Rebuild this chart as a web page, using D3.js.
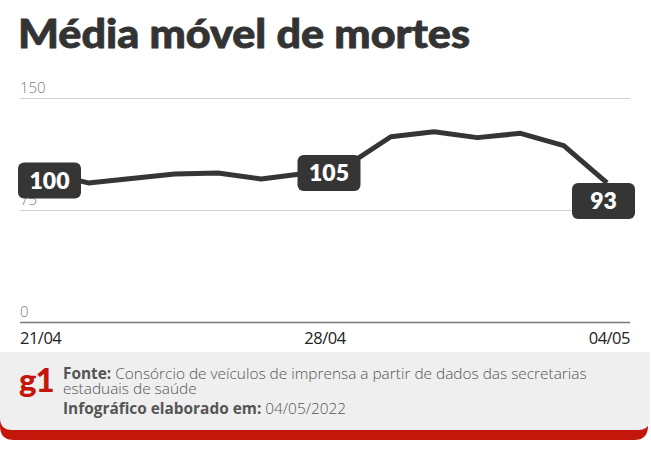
<!DOCTYPE html>
<html><head><meta charset="utf-8">
<script src="https://cdn.jsdelivr.net/npm/d3@7/dist/d3.min.js"></script>
<style>
html,body{margin:0;padding:0;background:#fff;}
svg{display:block;}
</style></head>
<body>
<script>
// ---- data ----
const dates = ["21/04","22/04","23/04","24/04","25/04","26/04","27/04","28/04","29/04","30/04","01/05","02/05","03/05","04/05"];
const values = [100, 93, 96, 99, 99.7, 95.6, 99.3, 105, 124, 127.4, 123.4, 126.3, 118, 93];
const yTicks = [0, 75, 150];
const xTickLabels = ["21/04", "28/04", "04/05"];
const annotated = ["21/04", "28/04", "04/05"];
const annotationText = ["100", "105", "93"];
const title = "Média móvel de mortes";
const sourceLabel = "Fonte:";
const sourceText = " Consórcio de veículos de imprensa a partir de dados das secretarias";
const sourceText2 = "estaduais de saúde";
const dateLabel = "Infográfico elaborado em:";
const dateText = " 04/05/2022";

const W = 651, H = 450;
const dark = "#353535", red = "#c4170c";

const svg = d3.select("body").append("svg").attr("width", W).attr("height", H);
svg.append("rect").attr("width", W).attr("height", H).attr("fill", "#fff");

// title
svg.append("text").attr("x", 18).attr("y", 48)
  .attr("font-family", "Lato, 'Open Sans', sans-serif").attr("font-weight", 900)
  .attr("font-size", 39).attr("fill", "#333")
  .attr("stroke", "#333").attr("stroke-width", 0.8)
  .attr("textLength", 452).attr("lengthAdjust", "spacingAndGlyphs").text(title);

// scales
const plotL = 20, plotR = 630;
const y = d3.scaleLinear().domain([0, 150]).range([321.5, 98]);
const x = d3.scaleLinear().domain([0, dates.length - 1]).range([45, 607]);
const xl = d3.scalePoint().domain(xTickLabels).range([plotL, plotR]);

// grid
svg.append("g").selectAll("line").data(yTicks).join("line")
  .attr("x1", plotL).attr("x2", plotR)
  .attr("y1", d => Math.round(y(d)) + 0.5).attr("y2", d => Math.round(y(d)) + 0.5)
  .attr("stroke", d => d === 0 ? "#7a7a7a" : "#cfcfcf")
  .attr("stroke-width", d => d === 0 ? 1.5 : 1.2);
svg.append("g").selectAll("text").data(yTicks).join("text")
  .attr("x", plotL).attr("y", d => y(d) - 5)
  .attr("font-family", "'Open Sans', sans-serif").attr("font-weight", 300)
  .attr("font-size", 15).attr("fill", "#7a7a7a").text(d => d);

// x labels
svg.append("g").selectAll("text").data(xTickLabels).join("text")
  .attr("x", d => xl(d)).attr("y", 344)
  .attr("text-anchor", (d, i) => i === 0 ? "start" : i === xTickLabels.length - 1 ? "end" : "middle")
  .attr("font-family", "'Open Sans', sans-serif").attr("font-size", 16.5)
  .attr("letter-spacing", -0.5).attr("fill", "#222").text(d => d);

// line
svg.append("path").datum(values)
  .attr("d", d3.line().x((d, i) => x(i)).y(d => y(d)))
  .attr("fill", "none").attr("stroke", dark).attr("stroke-width", 5)
  .attr("stroke-linejoin", "round");

// annotation boxes
const bw = 63, bh = 36;
annotated.forEach((dt, k) => {
  const i = dates.indexOf(dt);
  const v = values[i];
  const last = k === annotated.length - 1;
  let bx;
  if (k === 0) bx = xl(xTickLabels[0]) - 2;
  else if (last) bx = xl(xTickLabels[xTickLabels.length - 1]) + 5 - bw;
  else bx = xl(xTickLabels[k]) + 4 - bw / 2;
  const by = last ? y(v) : y(v) - 10;
  const g = svg.append("g");
  g.append("rect").attr("x", bx).attr("y", by).attr("width", bw).attr("height", bh)
    .attr("rx", 6).attr("fill", dark);
  g.append("text").attr("x", bx + bw / 2).attr("y", by + bh / 2 + 8)
    .attr("text-anchor", "middle").attr("font-family", "Lato, 'Open Sans', sans-serif")
    .attr("font-weight", 800).attr("font-size", 23).attr("fill", "#fff")
    .text(annotationText[k]);
});

// footer
const fTop = 352, fRight = 648;
svg.append("path")
  .attr("d", `M0,${fTop} H${fRight} V${440 - 14} Q${fRight},440 ${fRight - 14},440 H14 Q0,440 0,${440 - 14} Z`)
  .attr("fill", red);
svg.append("path")
  .attr("d", `M0,${fTop} H${fRight + 2} V${430 - 12} Q${fRight + 2},430 ${fRight - 10},430 H12 Q0,430 0,${430 - 12} Z`)
  .attr("fill", "#efefef");

svg.append("text").attr("x", 19).attr("y", 392)
  .attr("font-family", "Lato, sans-serif").attr("font-weight", 900)
  .attr("font-size", 33).attr("fill", red).attr("letter-spacing", -1).text("g1");

const ff = "'Open Sans', sans-serif";
const fs = 15.4;
const l1 = svg.append("text").attr("x", 63).attr("y", 379).attr("font-family", ff)
  .attr("font-size", fs).attr("fill", "#555");
l1.append("tspan").attr("font-weight", 700).text(sourceLabel);
l1.append("tspan").attr("font-weight", 300).text(sourceText);
svg.append("text").attr("x", 63).attr("y", 394).attr("font-family", ff)
  .attr("font-size", fs).attr("font-weight", 300).attr("fill", "#555").text(sourceText2);
const l3 = svg.append("text").attr("x", 63).attr("y", 414).attr("font-family", ff)
  .attr("font-size", fs).attr("fill", "#555");
l3.append("tspan").attr("font-weight", 700).text(dateLabel);
l3.append("tspan").attr("font-weight", 300).text(dateText);
</script>
</body></html>
